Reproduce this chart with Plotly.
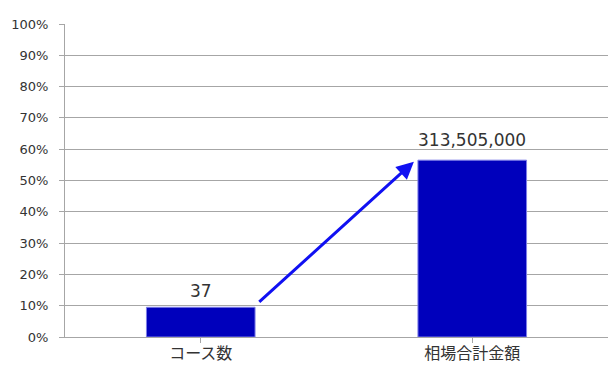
import plotly.graph_objects as go

# Chart data
categories = ["コース数", "相場合計金額"]
share_pct = [9.5, 56.5]          # bar heights, % of axis
value_labels = ["37", "313,505,000"]
y_ticks = list(range(0, 101, 10))
y_tick_labels = [f"{v}%" for v in y_ticks]

BAR_COLOR = "#0000BC"
ARROW_COLOR = "#1010F2"
GRID = "#A6A6A6"
TEXT = "#333333"
BAR_WIDTH = 0.4
LABEL_GAP = [4, 8]               # pixel gap between bar top and its label

fig = go.Figure()
fig.add_trace(go.Bar(
    x=[0, 1],
    y=share_pct,
    width=BAR_WIDTH,
    marker=dict(color=BAR_COLOR, line=dict(color="#7E7EE8", width=1)),
    hoverinfo="skip",
))

# Value labels above each bar
for i, (v, lbl) in enumerate(zip(share_pct, value_labels)):
    fig.add_annotation(
        x=i, y=v, xref="x", yref="y", text=lbl, showarrow=False,
        yanchor="bottom", yshift=LABEL_GAP[i],
        font=dict(family="DejaVu Sans", size=17, color=TEXT),
    )

# Arrow from the top-right corner of the first bar to the top-left of the second
x0 = 0 + BAR_WIDTH / 2 + 0.01
y0 = share_pct[0] + 1.3
x1 = 1 - BAR_WIDTH / 2 - 0.015
y1 = share_pct[1] - 0.5
fig.add_annotation(
    x=x1, y=y1, ax=x0, ay=y0,
    xref="x", yref="y", axref="x", ayref="y",
    showarrow=True, arrowhead=2, arrowsize=1.15, arrowwidth=3,
    arrowcolor=ARROW_COLOR, text="",
)

fig.update_layout(
    width=608, height=365,
    margin=dict(l=65, r=0, t=24, b=28, autoexpand=False),
    paper_bgcolor="white", plot_bgcolor="white",
    showlegend=False,
    font=dict(family="DejaVu Sans, Noto Sans CJK JP", color=TEXT),
)
fig.update_xaxes(
    range=[-0.5, 1.5],
    tickmode="array", tickvals=[0, 1], ticktext=categories,
    tickfont=dict(family="Noto Sans CJK JP", size=16, color=TEXT),
    showgrid=False, zeroline=False,
    showline=True, linecolor=GRID, linewidth=1,
    ticks="outside", tickson="boundaries", ticklen=5, tickcolor=GRID,
    ticklabelstandoff=-3, automargin=False,
)
fig.update_yaxes(
    range=[0, 100],
    tickmode="array", tickvals=y_ticks, ticktext=y_tick_labels,
    tickfont=dict(family="DejaVu Sans", size=13, color=TEXT),
    showgrid=True, gridcolor=GRID, gridwidth=1,
    zeroline=False,
    showline=True, linecolor=GRID, linewidth=1,
    ticks="outside", ticklen=5, tickcolor=GRID,
    ticklabelstandoff=8, automargin=False,
)

fig.write_html("out.html")
